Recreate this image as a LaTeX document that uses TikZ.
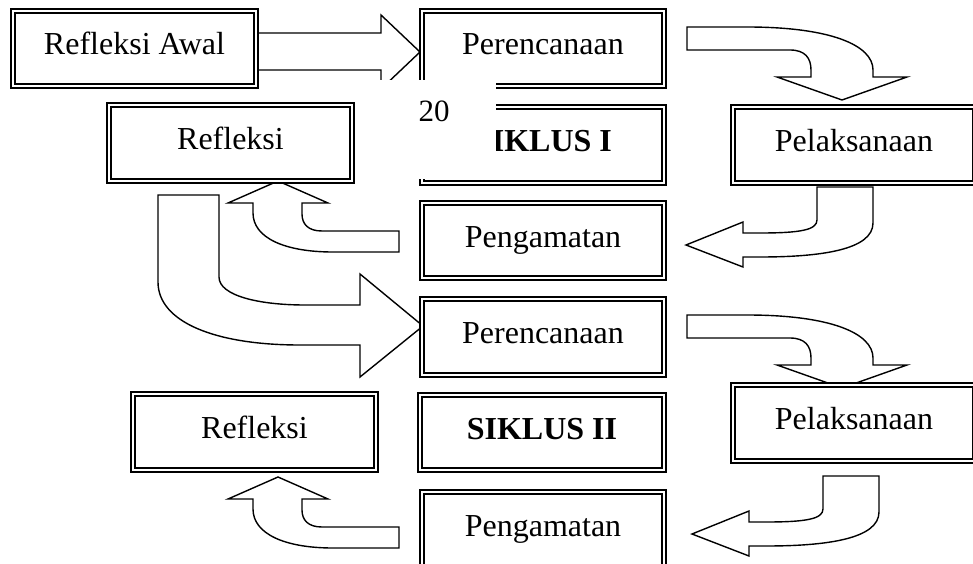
\documentclass[tikz,border=0pt]{standalone}
\usepackage{fontspec}
\setmainfont{Liberation Serif}
\begin{document}
\begin{tikzpicture}[x=1pt,y=-1pt,
  stagebox/.style={draw, line width=1.2pt, fill=white, inner sep=0pt,
    text height=21.5pt, text depth=8.5pt,
    font=\fontsize{32}{37}\selectfont},
  innerline/.style={line width=2.3pt},
  blockarrow/.style={draw, fill=white, line width=1.4pt, line join=miter},
  patch/.style={fill=white, draw=none}]
\useasboundingbox (0,0) rectangle (973,564);

% ---------- arrows ----------
% Refleksi Awal -> Perencanaan
\path[blockarrow] (258,33) -- (381,33) -- (381,15) -- (420,52) -- (381,89) -- (381,70) -- (258,70) -- cycle;
% Perencanaan -> Pelaksanaan (I and II)
\foreach \dy in {0,288}{
\begin{scope}[yshift=-\dy pt]
\path[blockarrow] (687,27) -- (747,27) .. controls (830,27) and (873,45) .. (873,70) -- (873,77)
  -- (907,77) -- (842,100) -- (777,77) -- (811,77) -- (811,70)
  .. controls (811,58) and (805,50) .. (790,50) -- (687,50) -- cycle;
\end{scope}}
% Pelaksanaan -> Pengamatan (I and II)
\foreach \dx/\dy in {0/0,6/289}{
\begin{scope}[xshift=\dx pt, yshift=-\dy pt]
\path[blockarrow] (817,187) -- (873,187) -- (873,223)
  .. controls (873,250) and (820,257) .. (760,257) -- (743,257) -- (743,267) -- (686,245)
  -- (743,222) -- (743,233) -- (760,233) .. controls (800,233) and (817,230) .. (817,220) -- cycle;
\end{scope}}
% Pengamatan -> Refleksi (I and II)
\foreach \dy in {0,296}{
\begin{scope}[yshift=-\dy pt]
\path[blockarrow] (399,231) -- (322,231) .. controls (308,231) and (302,224) .. (302,214)
  -- (302,203) -- (328,203) -- (278,181) -- (228,203) -- (253,203) -- (253,213)
  .. controls (253,238) and (285,252) .. (333,252) -- (399,252) -- cycle;
\end{scope}}
% Refleksi -> Perencanaan II
\path[blockarrow] (158,195) -- (219,195) -- (219,277)
  .. controls (219,296) and (260,305) .. (305,305) -- (360,305) -- (360,274) -- (423,326)
  -- (360,377) -- (360,345) -- (300,345) .. controls (215,345) and (158,322) .. (158,282) -- cycle;

% ---------- boxes ----------
\node[stagebox, minimum width=247pt, minimum height=79pt] (ra) at (134.5,48.5) {Refleksi Awal};
\node[stagebox, minimum width=246pt, minimum height=79pt] (p1) at (543,48.5) {Perencanaan};
\node[stagebox, minimum width=247pt, minimum height=80pt] (r1) at (230.5,143) {Refleksi};
\node[stagebox, minimum width=246pt, minimum height=80pt] (s1) at (543,145) {\bfseries SIKLUS I};
\node[stagebox, minimum width=246pt, minimum height=80pt] (l1) at (854,145) {Pelaksanaan};
\node[stagebox, minimum width=246pt, minimum height=79pt] (g1) at (543,240.5) {Pengamatan};
\node[stagebox, minimum width=246pt, minimum height=80pt] (p2) at (543,337) {Perencanaan};
\node[stagebox, minimum width=246pt, minimum height=80pt] (l2) at (854,423) {Pelaksanaan};
\node[stagebox, minimum width=248pt, minimum height=79pt] (s2) at (542,432.5) {\bfseries SIKLUS II};
\node[stagebox, minimum width=247pt, minimum height=80pt] (r2) at (254.5,432) {Refleksi};
\node[stagebox, minimum width=246pt, minimum height=80pt] (g2) at (543,530) {Pengamatan};
\foreach \n in {ra,p1,r1,s1,l1,g1,p2,l2,s2,r2,g2}
  \draw[innerline] ([shift={(4.5pt,4.5pt)}]\n.south west) rectangle ([shift={(-4.5pt,-4.5pt)}]\n.north east);

% ---------- page-number patch ----------
\path[patch] (362,80) rectangle (496,178.5);
\node[inner sep=0pt, anchor=base, font=\fontsize{31}{36}\selectfont] (pg) at (434,122) {20};
\end{tikzpicture}
\end{document}
